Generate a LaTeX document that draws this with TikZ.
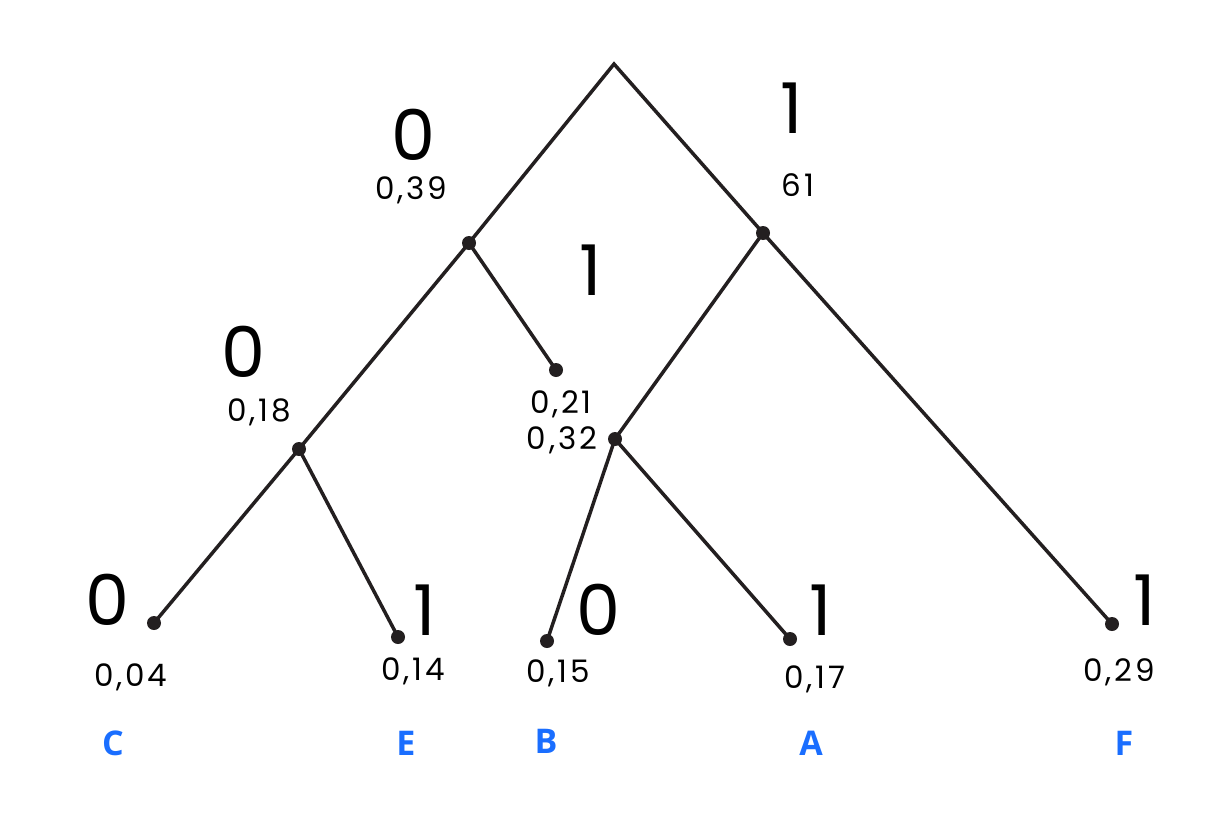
\documentclass[tikz,border=0pt]{standalone}
\usepackage{fontspec}
\setmainfont{Poppins}
\newfontfamily\smallfont[LetterSpace=9]{Poppins}
\newfontfamily\letfont{Open Sans}
\definecolor{edge}{HTML}{231F20}
\definecolor{leafblue}{HTML}{1A6EFF}
\begin{document}
\begin{tikzpicture}[x=1pt,y=-1pt,
  big/.style={font=\fontsize{70}{70}\selectfont, inner sep=0pt},
  small/.style={font=\smallfont\fontsize{31}{31}\selectfont, inner sep=0pt},
  lett/.style={font=\letfont\bfseries\fontsize{34}{34}\selectfont, text=leafblue, inner sep=0pt},
  dot/.style={circle, fill=edge, minimum size=14pt, inner sep=0pt},
  edg/.style={draw=edge, line width=3.5pt}]
\useasboundingbox (0,0) rectangle (1221,838);
\coordinate (r) at (614,64);
\node[dot] (l) at (469,243) {};
\node[dot] (rr) at (763,233) {};
\node[dot] (ll) at (299,449) {};
\node[dot] (lr) at (556,370) {};
\node[dot] (rl) at (615,439) {};
\node[dot] (c) at (154,623) {};
\node[dot] (e) at (398,637) {};
\node[dot] (b) at (547,641) {};
\node[dot] (a) at (790,639) {};
\node[dot] (f) at (1112,624) {};
\draw[edg] (l.center) -- (r) -- (rr.center);
\draw[edg] (ll.center) -- (l.center) -- (lr.center);
\draw[edg] (rl.center) -- (rr.center) -- (f.center);
\draw[edg] (c.center) -- (ll.center) -- (e.center);
\draw[edg] (b.center) -- (rl.center) -- (a.center);
% labels
\node[big] (t1) at (413,135) {0};
\node[small] (t2) at (411,190) {0,39};
\node[big] (t3) at (792,108) {1};
\node[small] (t4) at (798,185) {61};
\node[big] (t5) at (591,270) {1};
\node[big] (t6) at (243,352) {0};
\node[small] (t7) at (259,412) {0,18};
\node[small] (t8) at (561,404) {0,21};
\node[small] (t9) at (562,440) {0,32};
\node[big] (t10) at (107,600) {0};
\node[small] (t11) at (131,677) {0,04};
\node[big] (t12) at (425,610) {1};
\node[small] (t13) at (413,671) {0,14};
\node[big] (t14) at (598,610) {0};
\node[small] (t15) at (558,673) {0,15};
\node[big] (t16) at (821,610) {1};
\node[small] (t17) at (815,679) {0,17};
\node[big] (t18) at (1145,600) {1};
\node[small] (t19) at (1119,672) {0,29};
\node[lett] (C) at (113,743) {C};
\node[lett] (E) at (406,743) {E};
\node[lett] (B) at (546,741) {B};
\node[lett] (A) at (811,743) {A};
\node[lett] (F) at (1124,743) {F};
\end{tikzpicture}
\end{document}
